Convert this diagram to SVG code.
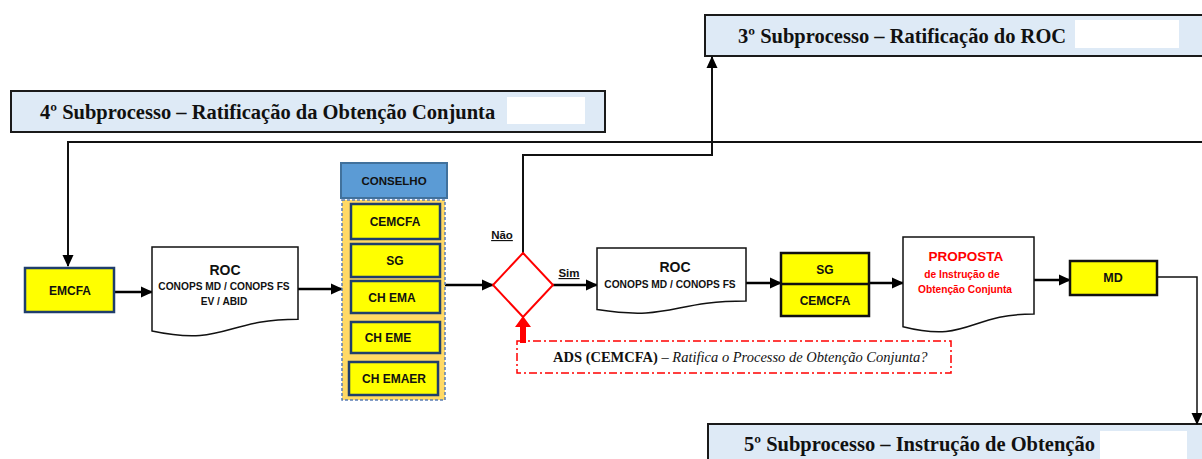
<svg xmlns="http://www.w3.org/2000/svg" width="1202" height="459" viewBox="0 0 1202 459">
  <defs>
    <marker id="arrow" markerUnits="userSpaceOnUse" markerWidth="12" markerHeight="12" viewBox="0 0 12 12" refX="11" refY="6" orient="auto">
      <path d="M0,0.5 L12,6 L0,11.5 Z" fill="#000"/>
    </marker>
    <style>
      .title { fill: #DEEAF6; stroke: #1a1a1a; stroke-width: 2; }
      .blank { fill: #FFFFFF; }
      .ttl { font-family: "Liberation Serif", "Times New Roman", serif; font-weight: bold; font-size: 20.5px; fill: #111; }
      .role { fill: #FFFF00; stroke: #1F3E6B; stroke-width: 2.5; }
      .doc { fill: #FFFFFF; stroke: #111; stroke-width: 1.5; }
      .lbl { font-family: "Liberation Sans", Arial, sans-serif; font-weight: bold; fill: #111; text-anchor: middle; }
      .flow { fill: none; stroke: #000; stroke-width: 2.5; }
      .link { fill: none; stroke: #111; stroke-width: 2; }
      .thin { fill: none; stroke: #111; stroke-width: 1.5; }
      .red { fill: #FF0000; }
    </style>
  </defs>

  <!-- subprocess banners -->
  <g id="sub4">
    <rect class="title" x="11" y="91" width="594" height="41"/>
    <text class="ttl" x="40" y="119">4º Subprocesso – Ratificação da Obtenção Conjunta</text>
    <rect class="blank" x="507" y="97" width="78" height="27"/>
  </g>
  <g id="sub3">
    <rect class="title" x="705" y="15" width="505" height="41"/>
    <text class="ttl" x="738" y="43">3º Subprocesso – Ratificação do ROC</text>
    <rect class="blank" x="1075" y="20" width="104" height="28"/>
  </g>
  <g id="sub5">
    <rect class="title" x="708" y="424" width="505" height="45"/>
    <text class="ttl" x="744" y="451">5º Subprocesso – Instrução de Obtenção</text>
    <rect class="blank" x="1100" y="431" width="87" height="30"/>
  </g>

  <!-- connectors -->
  <g id="connectors">
    <polyline class="link" points="1202,142 68,142 68,266" marker-end="url(#arrow)"/>
    <polyline class="link" points="523,253 523,155 712,155 712,57" marker-end="url(#arrow)"/>
    <line class="flow" x1="114" y1="292" x2="152" y2="292" marker-end="url(#arrow)"/>
    <line class="flow" x1="298" y1="289" x2="342" y2="289" marker-end="url(#arrow)"/>
    <line class="flow" x1="445" y1="285" x2="493" y2="285" marker-end="url(#arrow)"/>
    <line class="flow" x1="553" y1="285" x2="597" y2="285" marker-end="url(#arrow)"/>
    <line class="flow" x1="746" y1="283" x2="781" y2="283" marker-end="url(#arrow)"/>
    <line class="flow" x1="869" y1="283" x2="903" y2="283" marker-end="url(#arrow)"/>
    <line class="flow" x1="1034" y1="280" x2="1070" y2="280" marker-end="url(#arrow)"/>
    <polyline class="thin" points="1157,277 1197,277 1197,424" marker-end="url(#arrow)"/>
    <!-- red pointer from the decision note up to the diamond -->
    <polygon class="red" points="520,343 526,343 526,327 531,327 523,316 515,327 520,327"/>
    <text class="lbl" x="502" y="239" font-size="11.5" text-decoration="underline">Não</text>
    <text class="lbl" x="569" y="277" font-size="11.5" text-decoration="underline">Sim</text>
  </g>

  <!-- EMCFA -->
  <g id="emcfa">
    <rect class="role" x="25" y="268" width="89" height="44" stroke="#2F5597" stroke-width="2"/>
    <text class="lbl" x="70" y="295" font-size="12">EMCFA</text>
  </g>

  <!-- ROC document -->
  <g id="roc1">
    <path class="doc" d="M152,247 H298 V319.2 C225,319.2 225,346.6 152,331 Z"/>
    <text class="lbl" x="225" y="275" font-size="14">ROC</text>
    <text class="lbl" x="224" y="290" font-size="10.2">CONOPS MD / CONOPS FS</text>
    <text class="lbl" x="224" y="305" font-size="10.2">EV / ABID</text>
  </g>

  <!-- Conselho -->
  <g id="conselho">
    <rect x="341" y="163" width="106" height="35" fill="#5B9BD5" stroke="#41719C" stroke-width="2"/>
    <text class="lbl" x="394" y="185" font-size="11.5">CONSELHO</text>
    <rect x="342" y="200" width="103" height="200" fill="#FFD966" stroke="#5B7DB5" stroke-width="1.5" stroke-dasharray="3,2"/>
  </g>
  <g id="cemcfa">
    <rect class="role" x="351" y="204" width="89" height="35"/>
    <text class="lbl" x="395" y="226" font-size="12">CEMCFA</text>
  </g>
  <g id="sg">
    <rect class="role" x="351" y="244" width="89" height="33"/>
    <text class="lbl" x="395" y="265" font-size="12">SG</text>
  </g>
  <g id="chema">
    <rect class="role" x="351" y="281" width="89" height="32"/>
    <text class="lbl" x="392" y="302" font-size="12">CH EMA</text>
  </g>
  <g id="cheme">
    <rect class="role" x="351" y="322" width="89" height="31"/>
    <text class="lbl" x="388" y="342" font-size="12">CH EME</text>
  </g>
  <g id="chemaer">
    <rect class="role" x="349" y="362" width="89" height="33"/>
    <text class="lbl" x="394" y="383" font-size="12">CH EMAER</text>
  </g>

  <!-- decision -->
  <g id="decision">
    <polygon points="523,253 553,285 523,317 493,285" fill="#FFFFFF" stroke="#FF0000" stroke-width="2"/>
  </g>
  <g id="ads">
    <rect x="517" y="341" width="434" height="32" fill="none" stroke="#FF0000" stroke-width="1.5" stroke-dasharray="8,3,2,3"/>
    <text x="553" y="362" font-family="Liberation Serif, 'Times New Roman', serif" font-size="14.5" fill="#111"><tspan font-weight="bold">ADS (CEMCFA)</tspan><tspan font-style="italic"> – Ratifica o Processo de Obtenção Conjunta?</tspan></text>
  </g>

  <!-- ROC document after approval -->
  <g id="roc2">
    <path class="doc" d="M597,248 H746 V300.9 C671.5,300.9 671.5,321.1 597,309.6 Z"/>
    <text class="lbl" x="675" y="272" font-size="14">ROC</text>
    <text class="lbl" x="670" y="288" font-size="10.2">CONOPS MD / CONOPS FS</text>
  </g>

  <!-- SG / CEMCFA -->
  <g id="sg-cemcfa">
    <rect x="781" y="253" width="88" height="63" fill="#FFFF00" stroke="#111" stroke-width="2.5"/>
    <line x1="781" y1="284" x2="869" y2="284" stroke="#111" stroke-width="2.5"/>
    <text class="lbl" x="825" y="274" font-size="12">SG</text>
    <text class="lbl" x="825" y="305" font-size="12">CEMCFA</text>
  </g>

  <!-- PROPOSTA document -->
  <g id="proposta">
    <path class="doc" d="M903,237 H1034 V314 C968.5,314 968.5,343.3 903,326.7 Z"/>
    <text class="lbl" x="966" y="261" font-size="13.5" style="fill:#FF0000">PROPOSTA</text>
    <text class="lbl" x="962" y="278" font-size="10.2" style="fill:#FF0000">de Instrução de</text>
    <text class="lbl" x="965" y="293" font-size="10.2" style="fill:#FF0000">Obtenção Conjunta</text>
  </g>

  <!-- MD -->
  <g id="md">
    <rect x="1070" y="261" width="87" height="34" fill="#FFFF00" stroke="#111" stroke-width="2.5"/>
    <text class="lbl" x="1113" y="282" font-size="12.5">MD</text>
  </g>
</svg>
